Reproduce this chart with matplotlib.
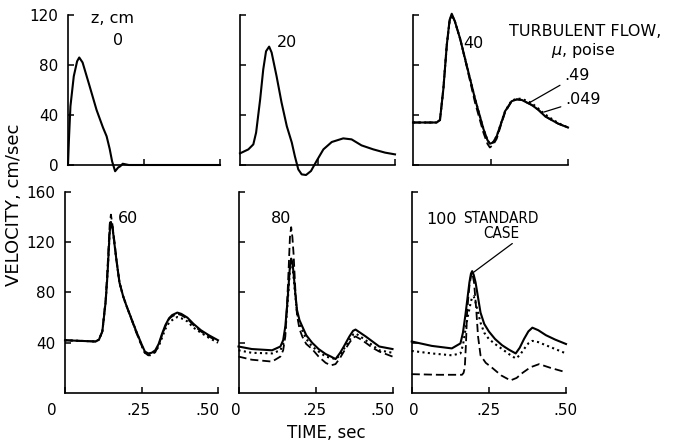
import matplotlib
matplotlib.use('Agg')
import matplotlib.pyplot as plt
from matplotlib.transforms import ScaledTranslation

# ---- data (time in sec, velocity in cm/sec) ----
# z = 0 cm
t_z0 = [0, 0.003, 0.008, 0.019, 0.03, 0.037, 0.048, 0.07, 0.094, 0.115, 0.127,
        0.137, 0.145, 0.155, 0.165, 0.172, 0.18, 0.2, 0.5]
v_z0 = [0, 20, 47, 71, 83, 86, 82, 64, 44, 30, 23, 13, 3, -5, -2, -1, 1, 0, 0]

# z = 20 cm
t_z20 = [0, 0.027, 0.043, 0.052, 0.065, 0.075, 0.084, 0.094, 0.102, 0.118, 0.134,
         0.151, 0.167, 0.177, 0.188, 0.199, 0.213, 0.229, 0.247, 0.269, 0.296,
         0.333, 0.36, 0.392, 0.43, 0.468, 0.5]
v_z20 = [9.3, 12.5, 16.5, 26, 52.5, 76.5, 91, 94.7, 90, 71, 50, 31, 18, 7, -3.5,
         -7.5, -8, -4.8, 3.2, 12.5, 18.4, 21.3, 20.5, 15.7, 12.5, 9.9, 8.5]

# z = 40 cm
t_z40 = [0, 0.076, 0.087, 0.098, 0.109, 0.118, 0.125, 0.135, 0.152, 0.173, 0.2,
         0.227, 0.24, 0.248, 0.258, 0.27, 0.285, 0.297, 0.318, 0.335, 0.351,
         0.383, 0.405, 0.426, 0.447, 0.469, 0.5]
v_z40_std = [34, 34, 36, 61, 96, 116, 121, 115, 101, 80, 53, 29, 20, 17, 18, 23,
             34, 43, 51, 52.5, 52, 48, 44, 39, 36, 33, 30]
v_z40_dot = [34, 34, 36, 61, 96, 115, 120, 115, 101, 80, 53, 29, 20, 17, 18, 23,
             34, 43, 51.5, 53, 53, 49.5, 45, 40.5, 37, 33.5, 30]
v_z40_dash = [34, 34, 36, 61, 96, 115, 120, 115, 101, 79, 50, 26, 17, 14, 16, 21,
              33, 42, 51, 52.5, 52, 48, 44, 39, 36, 33, 30]

# z = 60 cm
t_z60 = [0, 0.1, 0.111, 0.122, 0.133, 0.139, 0.146, 0.15, 0.155, 0.161, 0.168,
         0.178, 0.19, 0.2, 0.233, 0.25, 0.261, 0.272, 0.283, 0.295, 0.306, 0.317,
         0.328, 0.34, 0.35, 0.367, 0.38, 0.4, 0.42, 0.444, 0.47, 0.5]
v_z60_std = [42, 41, 42.5, 49, 73, 95, 128, 136, 132, 120, 106, 88, 77, 70, 49, 39,
             33, 31.5, 32, 34, 39, 47, 54, 59.5, 62, 64, 63, 60, 55, 50, 46, 42]
v_z60_dot = [42, 41, 42.5, 49, 73, 95, 128, 136, 132, 120, 106, 88, 77, 70, 49, 38,
             32, 30.5, 31, 33, 37, 44, 51, 56, 58, 60.5, 59.5, 57, 52, 48, 44, 40]
v_z60_dash = [42, 41, 42.5, 49, 75, 100, 134, 142, 134, 122, 106, 88, 77, 70, 48, 38,
              32, 30, 30, 32.5, 38, 46, 53, 59, 61, 63, 62, 59, 54, 49, 45, 41]

# z = 80 cm
t_z80 = [0, 0.043, 0.109, 0.136, 0.145, 0.152, 0.158, 0.163, 0.167, 0.171, 0.175,
         0.179, 0.185, 0.19, 0.198, 0.207, 0.22, 0.239, 0.26, 0.283, 0.3, 0.315,
         0.33, 0.342, 0.36, 0.372, 0.38, 0.395, 0.413, 0.435, 0.457, 0.5]
v_z80_std = [37, 35, 34, 37, 42, 53, 70, 87, 101, 107, 104, 95, 78, 66, 58, 53,
             46, 40, 35, 31, 29, 27, 32, 37, 45, 49.5, 50.5, 48, 45, 41, 37, 35]
v_z80_dot = [34, 32, 31.5, 34, 39, 49, 67, 84, 98, 104, 101, 92, 76, 64, 55, 50,
             43, 37, 33, 29, 28, 27, 30, 35, 42, 46.5, 47.5, 45, 42, 38, 34, 32]
v_z80_dash = [29, 26.5, 25, 29, 34, 45, 72, 100, 124, 132, 124, 110, 80, 62, 51, 45,
              39, 35, 29, 24, 22, 23, 28, 33, 40, 44, 45, 43, 40, 36, 33, 29]

# z = 100 cm
t_z100 = [0, 0.065, 0.13, 0.158, 0.166, 0.174, 0.181, 0.187, 0.192, 0.196, 0.201,
          0.207, 0.215, 0.223, 0.235, 0.25, 0.27, 0.293, 0.315, 0.337, 0.35, 0.364,
          0.378, 0.391, 0.41, 0.435, 0.465, 0.5]
v_z100_std = [41, 37.5, 35.5, 39.5, 48, 62, 76, 88, 95, 97, 94, 88, 76, 64, 55, 49,
              43, 38, 34.5, 31.5, 36, 43, 49, 52, 50, 46, 42.5, 39]
v_z100_dot = [33.5, 31.5, 30, 31.5, 38, 50, 60, 67, 73, 76, 77, 72, 64, 56, 48, 43,
              39, 35, 31, 27.5, 30, 35, 39.5, 41.5, 40.5, 38, 35, 31.5]
t_z100_dash = [0, 0.087, 0.163, 0.168, 0.172, 0.176, 0.179, 0.183, 0.187, 0.192,
               0.196, 0.202, 0.209, 0.215, 0.223, 0.24, 0.261, 0.29, 0.32, 0.34,
               0.359, 0.385, 0.413, 0.45, 0.5]
v_z100_dash = [15, 14.5, 14.5, 16, 20, 40, 62, 75, 85, 93, 96, 88, 67, 45, 30, 24,
               20, 14, 10, 12, 16, 20.5, 23, 20, 16.5]

x_ticks = [0, 0.25, 0.5]
x_ticklabels = ['0', '.25', '.50']

W, H = 673, 445


def px_box(x0, x1, ytop, ybot):
    return [x0 / W, 1 - ybot / H, (x1 - x0) / W, (ybot - ytop) / H]


def style(ax, ymax, yticks, left_labels, bottom_labels, xoffs=None):
    ax.set_xlim(0, 0.5)
    ax.set_ylim(0, ymax)
    for s in ['top', 'right']:
        ax.spines[s].set_visible(False)
    for s in ['left', 'bottom']:
        ax.spines[s].set_linewidth(1.2)
    ax.tick_params(direction='in', length=4, width=1.1, labelsize=11, pad=7)
    ax.set_yticks(yticks)
    if left_labels:
        ax.set_yticklabels([str(v) for v in yticks])
    else:
        ax.set_yticklabels([])
    if bottom_labels:
        ax.set_xticks(x_ticks)
        ax.set_xticklabels(x_ticklabels)
        ax.tick_params(axis='x', pad=7)
        for lab, dx in zip(ax.get_xticklabels(), xoffs):
            lab.set_transform(lab.get_transform() +
                              ScaledTranslation(dx / 100, 0, fig.dpi_scale_trans))
    else:
        ax.set_xticks([0.25, 0.5])
        ax.set_xticklabels([])


fig = plt.figure(figsize=(W / 100, H / 100), dpi=100)

solid = dict(color='black', lw=1.5, clip_on=False, solid_joinstyle='round')
dotted = dict(color='black', lw=1.5, ls=(0, (1, 1.6)), clip_on=False)
dashed = dict(color='black', lw=1.3, ls=(0, (4.5, 2.2)), clip_on=False)

# top row
ax1 = fig.add_axes(px_box(68, 220, 15, 165))
ax2 = fig.add_axes(px_box(240, 395, 15, 165))
ax3 = fig.add_axes(px_box(413, 568, 15, 165))
# bottom row
ax4 = fig.add_axes(px_box(65, 218, 192, 393))
ax5 = fig.add_axes(px_box(238.5, 392.5, 192, 393))
ax6 = fig.add_axes(px_box(411.7, 566, 192, 393))

style(ax1, 120, [0, 40, 80, 120], True, False)
style(ax2, 120, [0, 40, 80, 120], False, False)
style(ax3, 120, [0, 40, 80, 120], False, False)
style(ax4, 160, [40, 80, 120, 160], True, True, [-13, -3, -11])
style(ax5, 160, [40, 80, 120, 160], False, True, [-3, -1, -10])
style(ax6, 160, [40, 80, 120, 160], False, True, [2, 0, -1])

ax1.plot(t_z0, v_z0, **solid)
ax2.plot(t_z20, v_z20, **solid)

ax3.plot(t_z40, v_z40_dash, **dashed)
ax3.plot(t_z40, v_z40_dot, **dotted)
ax3.plot(t_z40, v_z40_std, **solid)

ax4.plot(t_z60, v_z60_dash, **dashed)
ax4.plot(t_z60, v_z60_dot, **dotted)
ax4.plot(t_z60, v_z60_std, **solid)

ax5.plot(t_z80, v_z80_dash, **dashed)
ax5.plot(t_z80, v_z80_dot, **dotted)
ax5.plot(t_z80, v_z80_std, **solid)

ax6.plot(t_z100_dash, v_z100_dash, **dashed)
ax6.plot(t_z100, v_z100_dot, **dotted)
ax6.plot(t_z100, v_z100_std, **solid)

# panel labels
lab = dict(fontsize=11.5, ha='center', va='center')
ax1.text(0.145, 117, 'z, cm', **lab)
ax1.text(0.164, 100, '0', **lab)
ax2.text(0.152, 98, '20', **lab)
ax3.text(0.194, 97, '40', **lab)
ax4.text(0.206, 139, '60', **lab)
ax5.text(0.138, 139, '80', **lab)
ax6.text(0.098, 138, '100', **lab)

# turbulent flow note
ax3.text(0.555, 106.5, 'TURBULENT FLOW,', fontsize=11.5, ha='center', va='center', clip_on=False)
ax3.text(0.548, 92, r'$\mu$, poise', fontsize=11.5, ha='center', va='center', clip_on=False)
ax3.annotate('.49', xy=(0.374, 49.6), xytext=(0.487, 71.4), fontsize=11.5,
             ha='left', va='center', annotation_clip=False,
             arrowprops=dict(arrowstyle='-', lw=0.9, color='black', shrinkA=1, shrinkB=0))
ax3.annotate('.049', xy=(0.423, 42.4), xytext=(0.49, 52), fontsize=11.5,
             ha='left', va='center', annotation_clip=False,
             arrowprops=dict(arrowstyle='-', lw=0.9, color='black', shrinkA=1, shrinkB=0))

# standard case note
ax6.text(0.29, 133, 'STANDARD\nCASE', fontsize=11, fontstretch='condensed',
         ha='center', va='center', linespacing=0.95)
ax6.annotate('', xy=(0.2, 96), xytext=(0.326, 119),
             arrowprops=dict(arrowstyle='-', lw=0.9, color='black', shrinkA=0, shrinkB=0))

fig.text(326 / W, 1 - 433 / H, 'TIME, sec', fontsize=12, ha='center', va='center')
fig.text(14 / W, 1 - 205 / H, 'VELOCITY, cm/sec', fontsize=13, ha='center', va='center',
         rotation=90)

fig.savefig('out.png', dpi=100)
